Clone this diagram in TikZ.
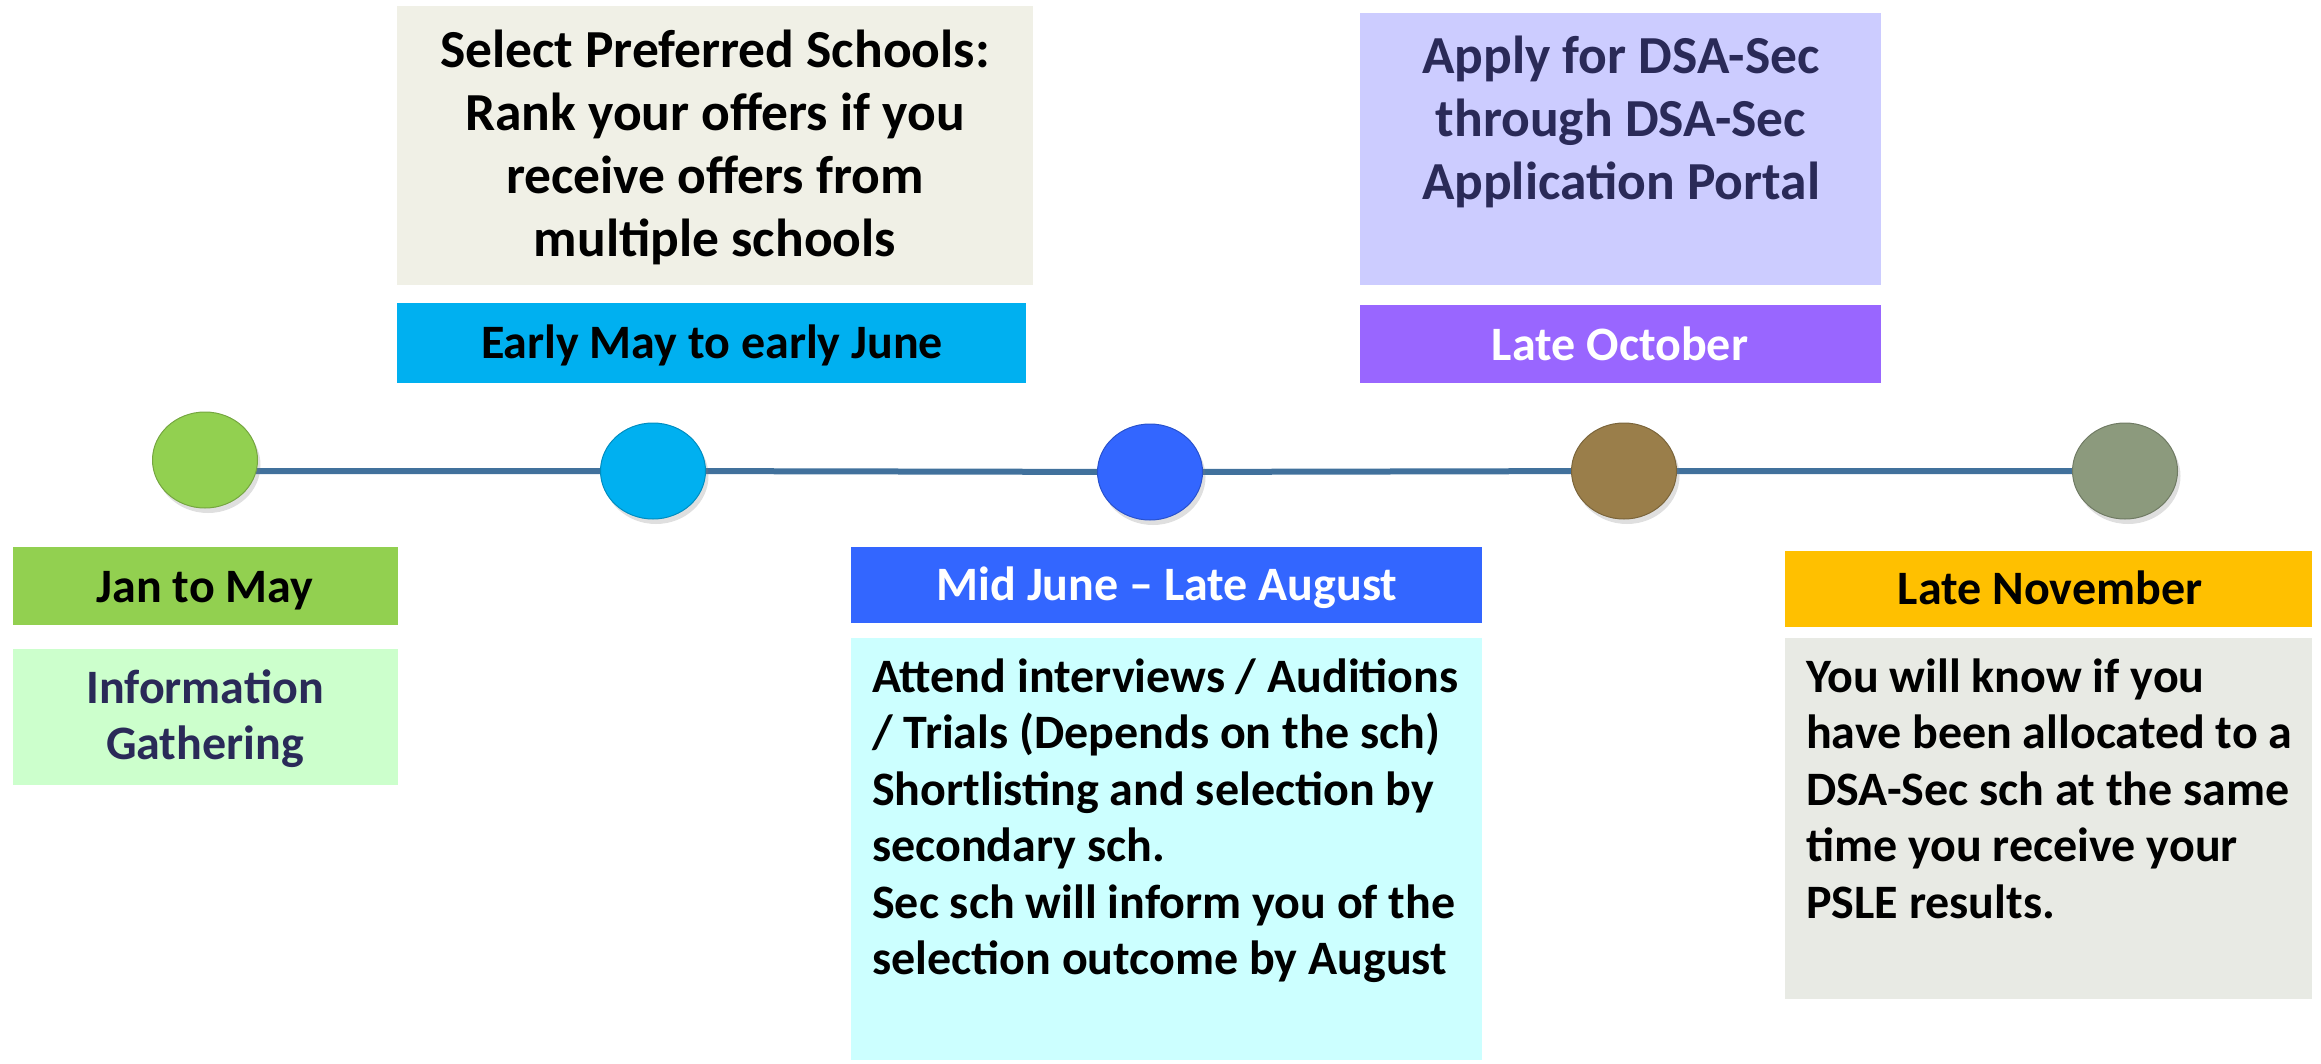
\documentclass[tikz,border=0pt]{standalone}
\usepackage{fontspec}
\setmainfont{Carlito}
\usetikzlibrary{shapes.geometric,shadows,backgrounds}
\definecolor{cgreen}{HTML}{92D050}
\definecolor{ccyan}{HTML}{00B0F0}
\definecolor{cblue}{HTML}{3366FF}
\definecolor{cbrown}{HTML}{9A7E4A}
\definecolor{cgrey}{HTML}{8C9A7D}
\definecolor{cline}{HTML}{41719C}
\definecolor{cbeige}{HTML}{F0F0E6}
\definecolor{clav}{HTML}{CCCCFF}
\definecolor{cpurple}{HTML}{9966FF}
\definecolor{clightcyan}{HTML}{CCFFFF}
\definecolor{cgold}{HTML}{FFC000}
\definecolor{clightgrey}{HTML}{E8EAE4}
\definecolor{clightgreen}{HTML}{CCFFCC}
\definecolor{cnavy}{HTML}{2A2A58}
\tikzset{
  box/.style={rectangle, inner sep=0pt, anchor=north west},
  dot/.style={ellipse, minimum width=105pt, minimum height=96pt, inner sep=0pt,
    fill=#1, draw=#1!80!black, line width=1pt,
    drop shadow={shadow xshift=3pt, shadow yshift=-5pt, opacity=0.25}},
  txt/.style={inner sep=0pt, anchor=base},
  ltxt/.style={inner sep=0pt, anchor=base west},
  timeline/.style={draw=cline, line width=6pt},
}
\newcommand{\bigtxt}{\fontsize{53.5}{63.3}\selectfont\bfseries}
\newcommand{\headtxt}{\fontsize{48}{56}\selectfont\bfseries}
\newcommand{\bodytxt}{\fontsize{48}{56.5}\selectfont\bfseries}
\begin{document}
\begin{tikzpicture}[x=1pt,y=-1pt]
\useasboundingbox (0,0) rectangle (2321,1063);
% boxes
\node[box, fill=cbeige, minimum width=636pt, minimum height=279pt] (sel) at (397,6) {};
\node[box, fill=ccyan, minimum width=629pt, minimum height=80pt] (early) at (397,303) {};
\node[box, fill=clav, minimum width=521pt, minimum height=272pt] (apply) at (1360,13) {};
\node[box, fill=cpurple, minimum width=521pt, minimum height=78pt] (oct) at (1360,305) {};
\node[box, fill=cgreen, minimum width=385pt, minimum height=78pt] (jan) at (13,547) {};
\node[box, fill=clightgreen, minimum width=385pt, minimum height=136pt] (info) at (13,649) {};
\node[box, fill=cblue, minimum width=631pt, minimum height=76pt] (mid) at (851,547) {};
\node[box, fill=clightcyan, minimum width=631pt, minimum height=422pt] (attend) at (851,638) {};
\node[box, fill=cgold, minimum width=527pt, minimum height=76pt] (nov) at (1785,551) {};
\node[box, fill=clightgrey, minimum width=527pt, minimum height=361pt] (know) at (1785,638) {};
% texts
\node[txt] (selt) at (715,67) {\parbox[t]{630pt}{\centering\bigtxt Select Preferred Schools:\\Rank your offers if you\\receive offers from\\multiple schools}};
\node[txt] (earlyt) at (712,358) {\headtxt Early May to early June};
\node[txt, text=cnavy] (applyt) at (1621,73) {\parbox[t]{515pt}{\centering\bigtxt Apply for DSA-Sec\\through DSA-Sec\\Application Portal}};
\node[txt, text=white] (octt) at (1620,360) {\headtxt Late October};
\node[txt] (jant) at (205,602) {\headtxt Jan to May};
\node[txt, text=cnavy] (infot) at (205,703) {\parbox[t]{380pt}{\centering\bodytxt Information\\Gathering}};
\node[txt, text=white] (midt) at (1167,600) {\headtxt Mid June -- Late August};
\node[ltxt] (attendt) at (872,692) {\parbox[t]{620pt}{\raggedright\bodytxt Attend interviews / Auditions\\/ Trials (Depends on the sch)\\Shortlisting and selection by\\secondary sch.\\Sec sch will inform you of the\\selection outcome by August}};
\node[txt] (novt) at (2050,604) {\headtxt Late November};
\node[ltxt] (knowt) at (1806,692) {\parbox[t]{520pt}{\raggedright\bodytxt You will know if you\\have been allocated to a\\DSA-Sec sch at the same\\time you receive your\\PSLE results.}};
% timeline dots
\node[dot=cgreen] (g) at (205,460) {};
\node[dot=ccyan] (b) at (653,471) {};
\node[dot=cblue] (d) at (1150,472) {};
\node[dot=cbrown] (br) at (1624,471) {};
\node[dot=cgrey] (gr) at (2125,471) {};
\begin{scope}[on background layer]
\draw[timeline] (g.center |- b.center) -- (b.center) -- (d.center) -- (br.center) -- (gr.center);
\end{scope}
\end{tikzpicture}
\end{document}
